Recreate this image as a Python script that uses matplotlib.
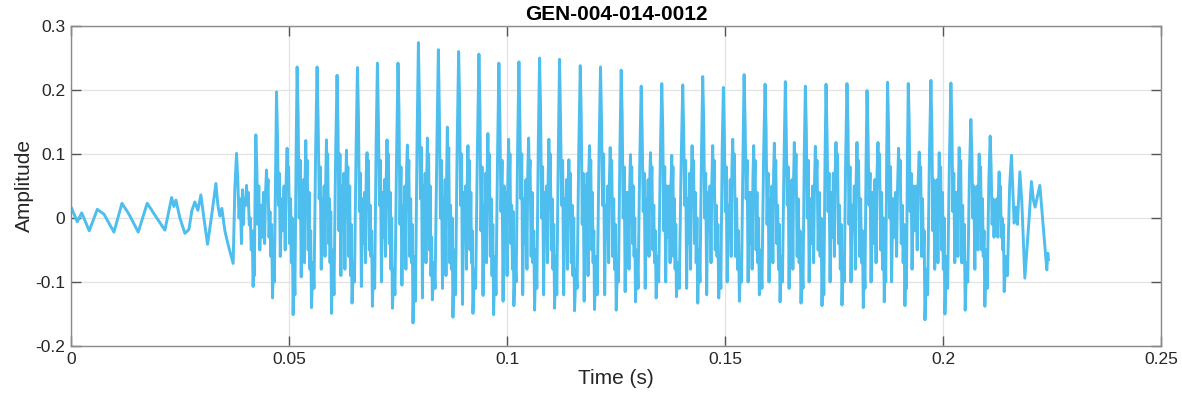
import numpy as np
import matplotlib
matplotlib.use("Agg")
import matplotlib.pyplot as plt

plt.rcParams['font.family'] = ['Liberation Sans', 'DejaVu Sans']

# ---- data (times in ms, amplitudes) ----
onset_ms = [0.16, 1.44, 2.45, 4.19, 6.03, 7.56, 9.85, 11.69, 13.29, 15.42, 17.48, 19.48,
            21.54, 23.08, 23.60, 24.06, 24.98, 26.12, 27.04, 27.73, 28.41, 29.10, 29.79,
            30.48, 31.32, 32.24, 32.77, 33.23, 33.69, 34.14, 34.60, 35.29, 36.05, 37.19, 37.58]
onset_amp = [0.015, -0.006, 0.008, -0.020, 0.0135, 0.006, -0.022, 0.023, 0.006, -0.022, 0.023, 0.002,
             -0.019, 0.032, 0.018, 0.028, 0.000, -0.024, -0.018, 0.012, 0.025, 0.012, 0.036,
             0.000, -0.041, 0.003, 0.030, 0.054, 0.020, 0.003, 0.015, -0.020, -0.042, -0.071, 0.046]

peak_ms = [37.97, 42.39, 47.14, 51.86, 56.44, 61.02, 65.70, 70.28, 75.00, 79.68, 84.26, 88.91,
           93.56, 98.14, 102.73, 107.47, 112.05, 116.80, 121.45, 126.19, 130.78, 135.50, 140.31,
           144.89, 149.63, 154.38, 159.19, 163.84, 168.43, 173.17, 177.98, 182.57, 187.28, 192.03,
           197.23, 201.81, 206.39, 210.82, 215.70]
peak_amp = [0.101, 0.130, 0.197, 0.236, 0.236, 0.223, 0.235, 0.242, 0.242, 0.274, 0.263, 0.260,
            0.256, 0.242, 0.244, 0.250, 0.248, 0.238, 0.236, 0.231, 0.206, 0.210, 0.208,
            0.221, 0.204, 0.224, 0.209, 0.213, 0.206, 0.209, 0.210, 0.199, 0.212, 0.210,
            0.215, 0.211, 0.154, 0.128, 0.098]

shoulder_hi = [0.06, 0.08, 0.13, 0.16, 0.15, 0.14, 0.16, 0.15, 0.17, 0.18, 0.16, 0.18, 0.17, 0.15, 0.16, 0.17,
               0.15, 0.16, 0.15, 0.16, 0.13, 0.14, 0.13, 0.15, 0.13, 0.15, 0.14, 0.13, 0.14, 0.13, 0.14, 0.13,
               0.14, 0.15, 0.14, 0.15, 0.10, 0.08]
shoulder_lo = [0.00, -0.01, 0.02, 0.00, 0.03, -0.02, 0.01, 0.02, -0.01, 0.03, 0.00, 0.02, -0.02, 0.01, 0.03, 0.00,
               0.02, -0.01, 0.02, 0.00, 0.01, -0.02, 0.02, 0.00, 0.01, 0.03, -0.01, 0.02, 0.00, 0.01, -0.01, 0.02,
               0.00, 0.01, -0.02, 0.01, 0.00, -0.01]
shoulder_bump = [0.03, 0.05, 0.07, 0.09, 0.08, 0.10, 0.07, 0.09, 0.08, 0.11, 0.09, 0.10, 0.08, 0.09, 0.10, 0.08,
                 0.09, 0.07, 0.10, 0.08, 0.07, 0.08, 0.09, 0.07, 0.08, 0.09, 0.07, 0.08, 0.09, 0.07, 0.08, 0.07,
                 0.08, 0.07, 0.06, 0.07, 0.05, 0.03]

low_ms = [39.10, 43.30, 48.00, 52.80, 57.40, 61.90, 66.60, 71.20, 75.90, 80.60, 85.20, 89.80,
          94.50, 99.10, 103.60, 108.40, 113.00, 117.70, 122.40, 127.10, 131.70, 136.40, 141.20,
          145.80, 150.50, 155.30, 160.10, 164.70, 169.30, 174.10, 178.90, 183.50, 188.20, 192.90,
          198.10, 202.70, 207.30, 211.70]
low_amp = [-0.040, -0.050, -0.060, -0.092, -0.080, -0.090, -0.107, -0.100, -0.105, -0.125, -0.110, -0.135,
           -0.121, -0.130, -0.120, -0.120, -0.120, -0.130, -0.120, -0.115, -0.110, -0.100, -0.110,
           -0.120, -0.100, -0.100, -0.100, -0.110, -0.100, -0.100, -0.100, -0.100, -0.100, -0.080,
           -0.080, -0.070, -0.080, -0.030]

wig_a = [0.044, 0.020, 0.030, 0.040, 0.030, 0.050, 0.030, 0.040, 0.020, 0.050, 0.030, 0.040, 0.020,
         0.050, 0.030, 0.040, 0.030, 0.050, 0.020, 0.040, 0.030, 0.050, 0.030, 0.040, 0.020, 0.040,
         0.030, 0.050, 0.030, 0.040, 0.020, 0.040, 0.030, 0.050, 0.030, 0.040, 0.030, 0.020]
wig_a2 = [-0.01, -0.03, -0.02, -0.04, -0.03, -0.02, -0.04, -0.03, -0.05, -0.02, -0.04, -0.03, -0.05,
          -0.02, -0.04, -0.03, -0.02, -0.04, -0.03, -0.05, -0.02, -0.03, -0.04, -0.02, -0.03, -0.04,
          -0.03, -0.02, -0.04, -0.03, -0.02, -0.04, -0.03, -0.02, -0.03, -0.04, -0.02, -0.01]
wig_a3 = [0.03, 0.04, 0.05, 0.06, 0.05, 0.07, 0.04, 0.06, 0.05, 0.07, 0.06, 0.05, 0.07, 0.04, 0.06, 0.05,
          0.06, 0.07, 0.05, 0.04, 0.06, 0.05, 0.07, 0.05, 0.06, 0.04, 0.05, 0.06, 0.05, 0.07, 0.05, 0.06,
          0.04, 0.05, 0.06, 0.04, 0.05, 0.03]
wig_b = [0.020, -0.040, -0.050, -0.070, -0.060, -0.080, -0.070, -0.060, -0.080, -0.070, -0.090, -0.080,
         -0.070, -0.090, -0.080, -0.070, -0.080, -0.090, -0.070, -0.080, -0.060, -0.070, -0.080, -0.070,
         -0.060, -0.080, -0.070, -0.080, -0.070, -0.060, -0.080, -0.070, -0.060, -0.050, -0.070, -0.060,
         -0.050, -0.030]
wig_b2 = [0.03, 0.04, 0.06, 0.07, 0.06, 0.05, 0.07, 0.06, 0.08, 0.06, 0.07, 0.05, 0.08, 0.06, 0.07, 0.06,
          0.05, 0.07, 0.06, 0.05, 0.06, 0.05, 0.07, 0.06, 0.08, 0.06, 0.07, 0.06, 0.05, 0.07, 0.06, 0.07,
          0.05, 0.06, 0.05, 0.06, 0.05, 0.04]

sec_ms = [40.26, 44.84, 49.57, 53.85, 58.59, 63.18, 67.90, 72.48, 77.16, 81.74, 86.32, 91.04,
          95.62, 100.37, 104.95, 109.60, 114.19, 118.93, 123.67, 128.32, 132.91, 137.79, 142.46,
          147.18, 151.77, 156.58, 161.32, 165.90, 170.72, 175.46, 180.27, 185.09, 189.81, 194.55,
          199.13, 203.71, 208.30, 212.88]
sec_amp = [0.051, 0.075, 0.109, 0.121, 0.122, 0.106, 0.102, 0.122, 0.114, 0.125, 0.142, 0.113,
           0.132, 0.123, 0.125, 0.123, 0.091, 0.113, 0.110, 0.099, 0.102, 0.098, 0.113,
           0.113, 0.123, 0.113, 0.117, 0.118, 0.112, 0.118, 0.118, 0.118, 0.109, 0.103,
           0.102, 0.110, 0.100, 0.072]

wig_s2 = [0.02, 0.03, 0.05, 0.06, 0.05, 0.04, 0.05, 0.06, 0.04, 0.07, 0.06, 0.05, 0.06, 0.05, 0.07, 0.05,
          0.04, 0.06, 0.05, 0.04, 0.05, 0.04, 0.06, 0.05, 0.06, 0.05, 0.06, 0.05, 0.06, 0.05, 0.06, 0.05,
          0.05, 0.04, 0.05, 0.06, 0.04, 0.03]
wig_s3 = [0.04, 0.06, 0.08, 0.09, 0.10, 0.08, 0.09, 0.10, 0.09, 0.10, 0.11, 0.09, 0.10, 0.10, 0.09, 0.10,
          0.07, 0.09, 0.09, 0.08, 0.08, 0.08, 0.09, 0.09, 0.10, 0.09, 0.09, 0.10, 0.09, 0.10, 0.09, 0.10,
          0.09, 0.08, 0.08, 0.09, 0.08, 0.05]
wig_c = [-0.011, -0.030, -0.040, -0.050, -0.040, -0.060, -0.050, -0.040, -0.060, -0.050, -0.070, -0.050,
         -0.060, -0.040, -0.060, -0.050, -0.070, -0.050, -0.060, -0.040, -0.050, -0.060, -0.040, -0.050,
         -0.060, -0.050, -0.040, -0.060, -0.050, -0.040, -0.060, -0.050, -0.040, -0.060, -0.050, -0.070,
         -0.050, -0.030]
wig_d = [0.000, 0.010, 0.030, 0.040, 0.030, 0.050, 0.020, 0.040, 0.030, 0.050, 0.020, 0.040, 0.030,
         0.020, 0.040, 0.030, 0.020, 0.040, 0.030, 0.050, 0.020, 0.030, 0.040, 0.020, 0.030, 0.040,
         0.020, 0.030, 0.040, 0.020, 0.030, 0.040, 0.020, 0.030, 0.040, 0.020, 0.030, 0.000]
wig_d2 = [-0.05, -0.06, -0.07, -0.08, -0.07, -0.09, -0.06, -0.08, -0.07, -0.09, -0.08, -0.07, -0.09,
          -0.08, -0.07, -0.08, -0.09, -0.07, -0.08, -0.06, -0.07, -0.08, -0.07, -0.06, -0.08, -0.07,
          -0.08, -0.07, -0.06, -0.08, -0.07, -0.08, -0.07, -0.06, -0.08, -0.07, -0.06, -0.05]
wig_d3 = [-0.02, -0.01, 0.00, -0.02, 0.01, -0.01, -0.02, 0.00, -0.01, -0.03, 0.00, -0.02, -0.01, 0.01,
          -0.02, -0.01, 0.00, -0.02, -0.01, 0.00, -0.02, -0.01, 0.00, -0.01, -0.02, 0.00, -0.01, -0.02,
          0.00, -0.01, -0.02, 0.00, -0.01, -0.02, 0.00, -0.01, -0.02, -0.01]

trough_ms = [41.77, 46.22, 50.94, 55.16, 59.74, 64.46, 69.13, 73.72, 78.44, 82.88, 87.60, 92.19,
             96.93, 101.58, 106.33, 110.91, 115.49, 120.07, 125.05, 129.47, 134.21, 138.86, 143.75,
             148.56, 153.30, 157.88, 162.63, 167.44, 172.25, 176.83, 181.72, 186.53, 191.27, 195.86,
             200.44, 205.09, 209.60, 214.03]
trough_amp = [-0.107, -0.125, -0.151, -0.140, -0.149, -0.133, -0.138, -0.141, -0.164, -0.128, -0.155, -0.149,
              -0.151, -0.137, -0.144, -0.141, -0.145, -0.143, -0.144, -0.131, -0.125, -0.123, -0.133,
              -0.125, -0.130, -0.120, -0.131, -0.133, -0.137, -0.136, -0.140, -0.131, -0.137, -0.159,
              -0.150, -0.144, -0.138, -0.115]

rise_e1 = [-0.07, -0.06, -0.08, -0.07, -0.05, -0.07, -0.06, -0.08, -0.06, -0.07, -0.05, -0.08, -0.06,
           -0.07, -0.05, -0.06, -0.08, -0.06, -0.07, -0.05, -0.06, -0.07, -0.05, -0.06, -0.07, -0.05,
           -0.06, -0.07, -0.05, -0.06, -0.07, -0.05, -0.06, -0.08, -0.06, -0.07, -0.05, -0.06]
rise_e2 = [-0.09, -0.10, -0.12, -0.11, -0.12, -0.10, -0.11, -0.12, -0.13, -0.11, -0.12, -0.11, -0.12,
           -0.10, -0.11, -0.12, -0.11, -0.12, -0.10, -0.11, -0.10, -0.11, -0.10, -0.11, -0.10, -0.11,
           -0.10, -0.11, -0.12, -0.10, -0.11, -0.10, -0.11, -0.12, -0.11, -0.10, -0.11, -0.09]
rise_e3 = [0.05, 0.07, 0.10, 0.11, 0.10, 0.11, 0.12, 0.10, 0.12, 0.11, 0.12, 0.11, 0.10, 0.11, 0.12,
           0.10, 0.11, 0.10, 0.11, 0.09, 0.10, 0.09, 0.10, 0.11, 0.09, 0.10, 0.09, 0.10, 0.09, 0.10,
           0.09, 0.10, 0.09, 0.10, 0.09, 0.07, 0.06, 0.05]

tail_ms = [216.32, 216.71, 217.08, 217.63, 218.08, 218.77, 219.76, 220.28, 220.74, 221.13,
           222.21, 223.19, 223.81, 224.04, 224.18]
tail_amp = [-0.008, 0.017, -0.010, 0.072, 0.025, -0.094, 0.000, 0.057, 0.028, 0.017,
            0.051, -0.031, -0.081, -0.055, -0.065]

title = "GEN-004-014-0012"
x_ticks = [0, 0.05, 0.1, 0.15, 0.2, 0.25]
x_labels = ["0", "0.05", "0.1", "0.15", "0.2", "0.25"]
y_ticks = [-0.2, -0.1, 0, 0.1, 0.2, 0.3]
y_labels = ["-0.2", "-0.1", "0", "0.1", "0.2", "0.3"]

# ---- assemble the polyline through the read extremes ----
def between(t0, t1, fracs):
    return [t0 + f * (t1 - t0) for f in fracs]

t = list(onset_ms)
a = list(onset_amp)
for k in range(len(sec_ms)):
    P, L, S, T, Pn = peak_ms[k], low_ms[k], sec_ms[k], trough_ms[k], peak_ms[k + 1]
    t += [P] + between(P, L, [0.25, 0.5, 0.75]) + [L]
    a += [peak_amp[k], shoulder_hi[k], shoulder_lo[k], shoulder_bump[k], low_amp[k]]
    t += between(L, S, [0.2, 0.38, 0.55, 0.72, 0.86]) + [S]
    a += [wig_a[k], wig_a2[k], wig_a3[k], wig_b[k], wig_b2[k], sec_amp[k]]
    t += between(S, T, [0.12, 0.25, 0.42, 0.58, 0.72, 0.86]) + [T]
    a += [wig_s2[k], wig_s3[k], wig_c[k], wig_d[k], wig_d2[k], wig_d3[k], trough_amp[k]]
    t += between(T, Pn, [0.25, 0.45, 0.75])
    a += [rise_e1[k], rise_e2[k], rise_e3[k]]
t += [peak_ms[-1]] + tail_ms
a += [peak_amp[-1]] + tail_amp
t = np.array(t) / 1000.0
a = np.array(a)

# ---- figure ----
W, H = 1182, 404
fig = plt.figure(figsize=(W / 100, H / 100), dpi=100)
ax = fig.add_axes([71 / W, 1 - 346 / H, (1161 - 71) / W, (346 - 26) / H])
ax.plot(t, a, color='#4DBEEE', lw=2.1)

ax.set_xlim(0, 0.25)
ax.set_ylim(-0.2, 0.3)
ax.set_xticks(x_ticks)
ax.set_xticklabels(x_labels)
ax.set_yticks(y_ticks)
ax.set_yticklabels(y_labels)
ax.grid(True, color='#e3e3e3', lw=0.9)
ax.set_axisbelow(True)
for s in ax.spines.values():
    s.set_color('#8a8a8a')
    s.set_linewidth(1.0)
ax.tick_params(direction='in', length=7, width=1.0, color='#555555',
               labelsize=12.5, labelcolor='#262626', top=True, right=True, pad=4)
ax.set_xlabel("Time (s)", fontsize=15, color='#262626', labelpad=2)
ax.set_ylabel("Amplitude", fontsize=15, color='#262626', labelpad=1)
ax.set_title(title, fontsize=15, fontweight='bold', color='#000000', pad=4)

fig.savefig("out.png", dpi=100)
